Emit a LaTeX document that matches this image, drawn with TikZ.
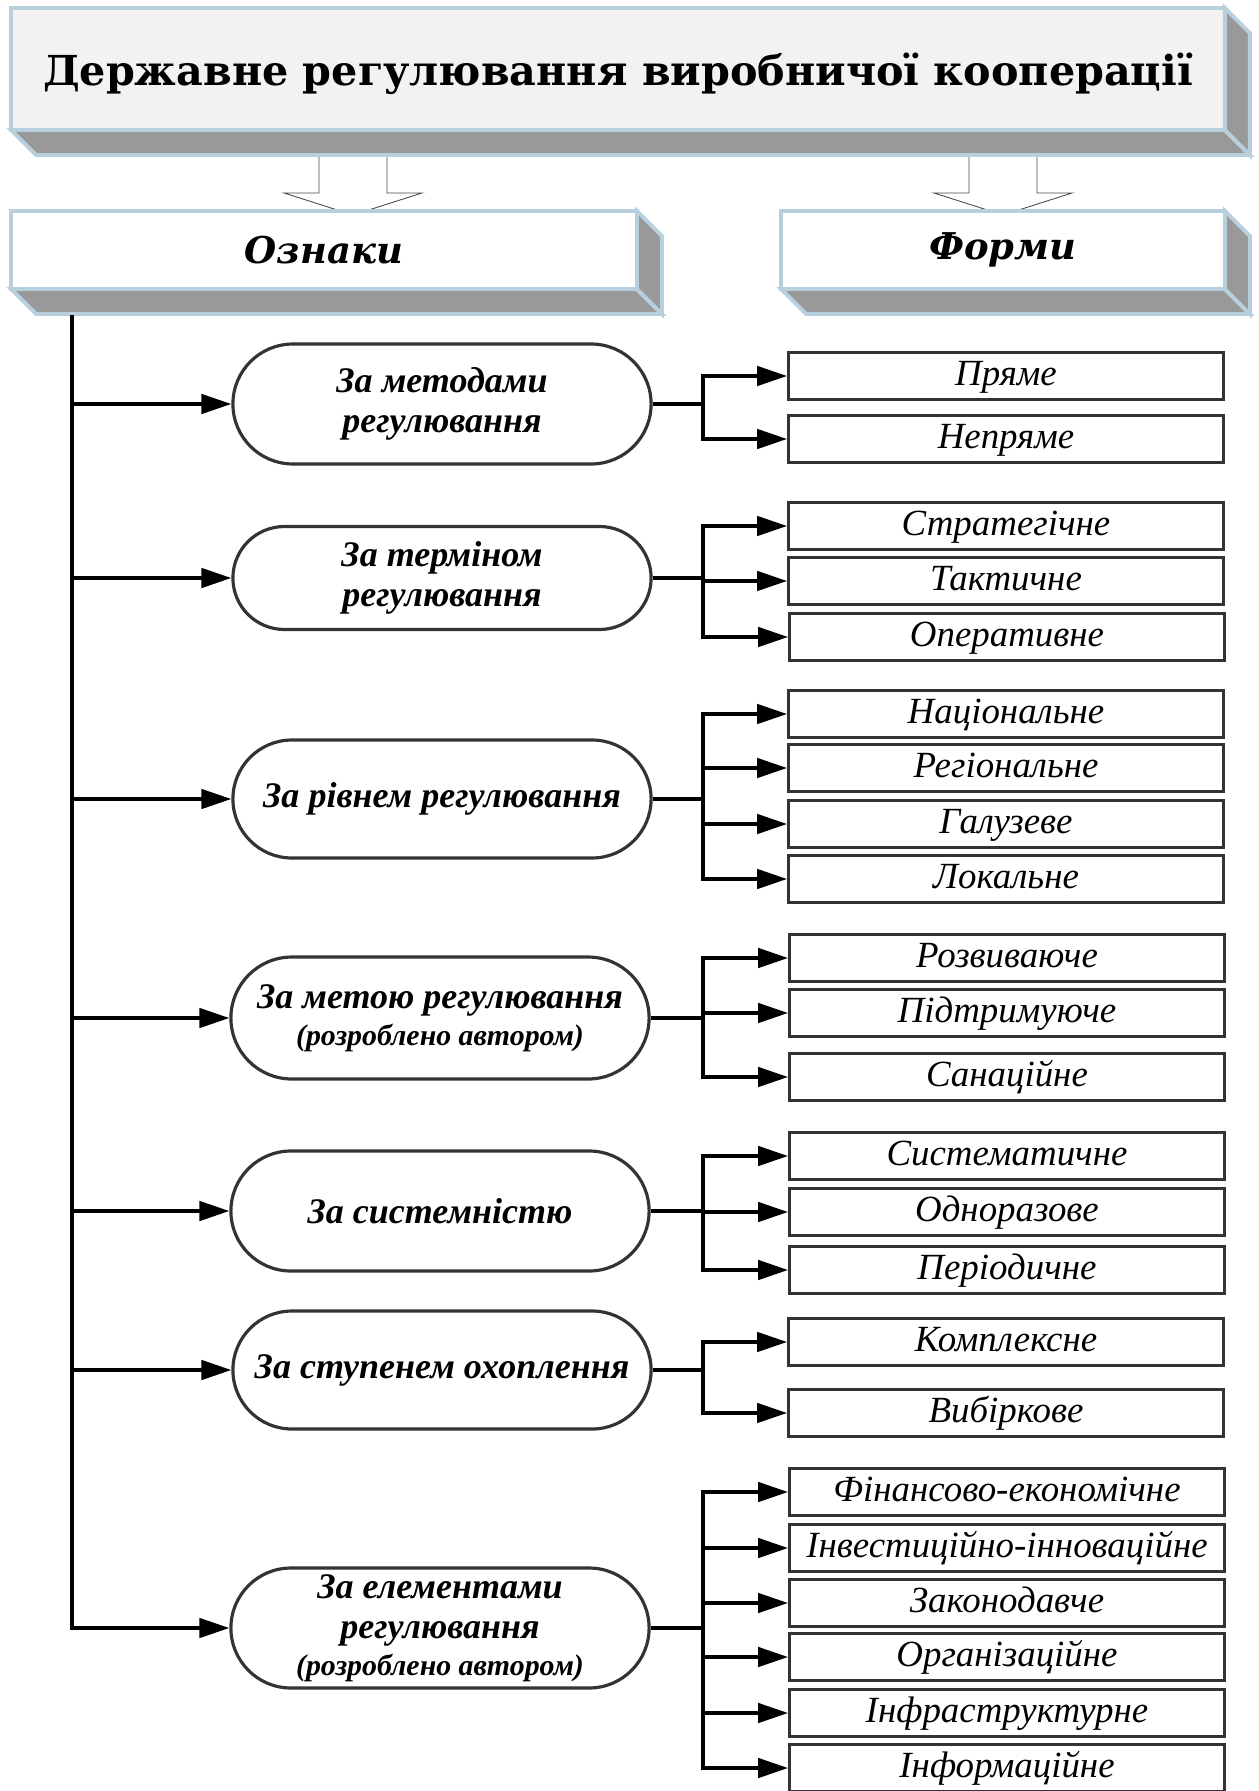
\documentclass[tikz,border=0pt]{standalone}
\usepackage{fontspec}
\setmainfont{Liberation Serif}
\newfontfamily\capfont{DejaVu Serif}
\usetikzlibrary{arrows.meta,shapes.misc,calc}
\definecolor{cedge}{HTML}{B8CFDE}
\definecolor{cslab}{HTML}{999999}
\definecolor{cface}{HTML}{F2F2F2}
\definecolor{cline}{HTML}{333333}
\newcommand\authnote{\fontsize{17}{19}\selectfont}
\newcommand\slabs[1]{%
  \draw[slab] (#1.south west) -- (#1.south east) -- ++(25,25) -- ($(#1.south west)+(25,25)$) -- cycle;
  \draw[slab] (#1.north east) -- ++(25,25) -- ($(#1.south east)+(25,25)$) -- (#1.south east) -- cycle;}

\begin{document}
\begin{tikzpicture}[x=0.02cm,y=-0.02cm,
  block/.style={draw=cedge,line width=2.2pt,outer sep=0pt,align=center},
  slab/.style={draw=cedge,line width=2.2pt,fill=cslab},
  oval/.style={rounded rectangle,draw=cline,line width=1.8pt,minimum width=8.6cm,
    align=center,font=\bfseries\itshape\fontsize{20.5}{23}\selectfont},
  form/.style={draw=cline,line width=1.7pt,minimum width=8.7cm,minimum height=0.94cm,
    text height=14pt,text depth=3pt,font=\itshape\fontsize{21}{22}\selectfont},
  harrow/.style={draw=black!70,line width=0.5pt,fill=white},
  arr/.style={line width=2pt,-{Triangle[length=17pt,width=11pt]}},
  link/.style={line width=2pt}]
  \useasboundingbox (0,0) rectangle (1258,1791);

  % header and the two titles
  \node[block,fill=cface,minimum width=24.28cm,minimum height=2.44cm,text depth=0pt,
    font=\capfont\bfseries\fontsize{23.5}{28}\selectfont] (hdr) at (618,69)
    {Державне регулювання виробничої кооперації};
  \slabs{hdr}
  \foreach \ax in {353,1003}
    \draw[harrow] (\ax-34,157) -- (\ax-34,193) -- (\ax-69,193) -- (\ax,215)
      -- (\ax+69,193) -- (\ax+34,193) -- (\ax+34,157);
  \node[block,fill=white,minimum width=12.52cm,minimum height=1.56cm,
    font=\capfont\bfseries\itshape\fontsize{21}{24}\selectfont] (ozn) at (324,250) {Ознаки};
  \slabs{ozn}
  \node[block,fill=white,minimum width=8.88cm,minimum height=1.56cm,
    font=\capfont\bfseries\itshape\fontsize{21}{24}\selectfont] (frm) at (1003,250) {Форми};
  \slabs{frm}

  % ознаки
  \node[oval,minimum height=2.4cm] (o1) at (442,404) {За методами\\регулювання};
  \node[oval,minimum height=2.06cm] (o2) at (442,578) {За терміном\\регулювання};
  \node[oval,minimum height=2.36cm] (o3) at (442,799) {За рівнем регулювання};
  \node[oval,minimum height=2.44cm] (o4) at (440,1018)
    {За метою регулювання\\[-2pt]{\authnote (розроблено автором)}};
  \node[oval,minimum height=2.4cm] (o5) at (440,1211) {За системністю};
  \node[oval,minimum height=2.36cm] (o6) at (442,1370) {За ступенем охоплення};
  \node[oval,minimum height=2.4cm] (o7) at (440,1628)
    {За елементами\\регулювання\\[-2pt]{\authnote (розроблено автором)}};

  % форми
  \node[form] (f11) at (1006,376) {Пряме};
  \node[form] (f12) at (1006,439) {Непряме};
  \node[form] (f21) at (1006,526) {Стратегічне};
  \node[form] (f22) at (1006,581) {Тактичне};
  \node[form] (f23) at (1007,637) {Оперативне};
  \node[form] (f31) at (1006,714) {Національне};
  \node[form] (f32) at (1006,768) {Регіональне};
  \node[form] (f33) at (1006,824) {Галузеве};
  \node[form] (f34) at (1006,879) {Локальне};
  \node[form] (f41) at (1007,958) {Розвиваюче};
  \node[form] (f42) at (1007,1013) {Підтримуюче};
  \node[form] (f43) at (1007,1077) {Санаційне};
  \node[form] (f51) at (1007,1156) {Систематичне};
  \node[form] (f52) at (1007,1212) {Одноразове};
  \node[form] (f53) at (1007,1270) {Періодичне};
  \node[form] (f61) at (1006,1342) {Комплексне};
  \node[form] (f62) at (1006,1413) {Вибіркове};
  \node[form] (f71) at (1007,1492) {Фінансово-економічне};
  \node[form] (f72) at (1007,1548) {Інвестиційно-інноваційне};
  \node[form] (f73) at (1007,1603) {Законодавче};
  \node[form] (f74) at (1007,1657) {Організаційне};
  \node[form] (f75) at (1007,1713) {Інфраструктурне};
  \node[form] (f76) at (1007,1768) {Інформаційне};

  % trunk
  \coordinate (tr) at (72,315);
  \draw[arr] (tr) |- (o7.west);
  \foreach \o in {o1,o2,o3,o4,o5,o6}
    \draw[arr] (tr |- \o.west) -- (\o.west);

  % branches
  \coordinate (br) at (703,0);
  \foreach \o/\fs in {o1/{f11,f12},o2/{f21,f22,f23},o3/{f31,f32,f33,f34},
      o4/{f41,f42,f43},o5/{f51,f52,f53},o6/{f61,f62},o7/{f71,f72,f73,f74,f75,f76}}{
    \draw[link] (\o.east) -- (br |- \o.east) coordinate (b\o);
    \foreach \f in \fs
      \draw[arr] (b\o) |- (\f.west);
  }
\end{tikzpicture}
\end{document}
